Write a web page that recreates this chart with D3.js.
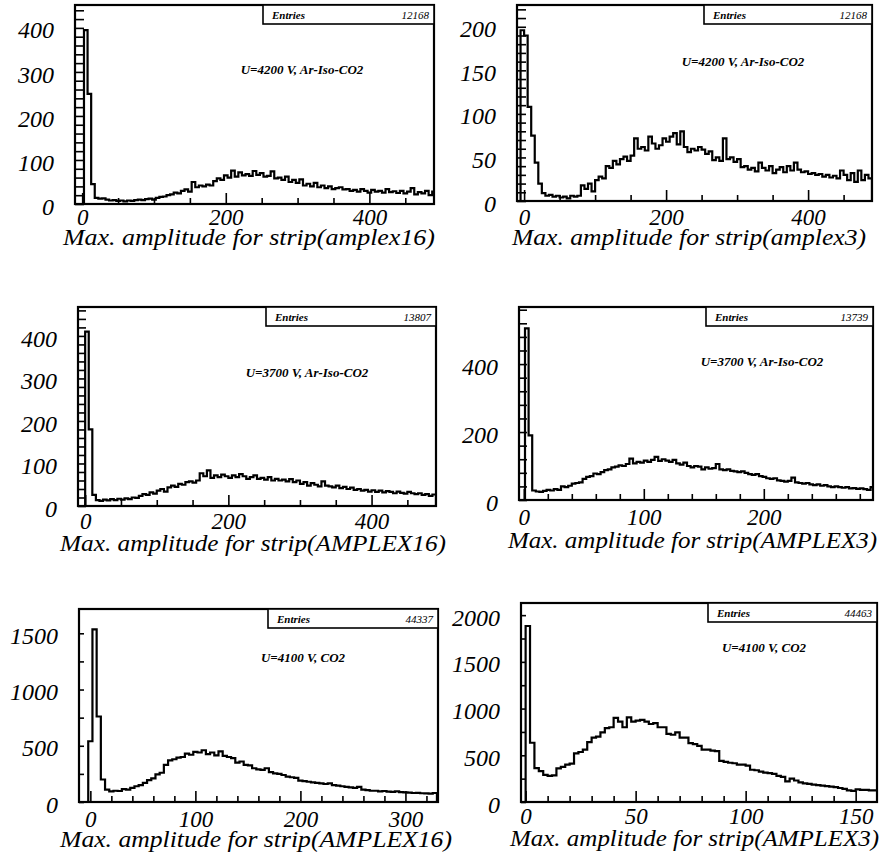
<!DOCTYPE html>
<html>
<head>
<meta charset="utf-8">
<script src="https://cdn.jsdelivr.net/npm/d3@7"></script>
<style>
  body { margin: 0; background: #fff; }
</style>
</head>
<body>
<div id="chart"></div>
<script>
// Histogram contents (bin counts, left to right)
const titles = [
  'Max. amplitude for strip(amplex16)',
  'Max. amplitude for strip(amplex3)',
  'Max. amplitude for strip(AMPLEX16)',
  'Max. amplitude for strip(AMPLEX3)',
  'Max. amplitude for strip(AMPLEX16)',
  'Max. amplitude for strip(AMPLEX3)'
]
const notes = [
  'U=4200 V, Ar-Iso-CO2', 'U=4200 V, Ar-Iso-CO2',
  'U=3700 V, Ar-Iso-CO2', 'U=3700 V, Ar-Iso-CO2',
  'U=4100 V, CO2', 'U=4100 V, CO2'
]
const entries = [12168, 12168, 13807, 13739, 44337, 44463]
const binStart = [-7.5, -10, -10, -2, -10, 0]
const binWidth = [5, 5, 5, 3, 4, 2]

const counts1 = [0, 0, 395, 250, 45, 14, 12, 13, 10, 8,
  9, 7, 8, 6, 8, 7, 9, 10, 9, 11,
  12, 10, 14, 16, 17, 20, 22, 26, 24, 30,
  33, 28, 50, 38, 42, 40, 44, 42, 52, 58,
  55, 65, 60, 76, 62, 72, 65, 68, 64, 75,
  66, 70, 62, 64, 74, 58, 60, 55, 62, 50,
  55, 48, 56, 42, 46, 40, 48, 38, 42, 36,
  40, 34, 36, 38, 33, 34, 30, 32, 28, 34,
  30, 26, 32, 28, 30, 26, 34, 27, 29, 25,
  30, 24, 28, 36, 22, 27, 24, 30, 20, 28]

const counts2 = [0, 196, 190, 108, 75, 44, 20, 9, 6, 7,
  5, 6, 4, 5, 3, 6, 5, 6, 18, 14,
  20, 11, 24, 28, 26, 40, 38, 46, 42, 48,
  51, 46, 52, 72, 60, 62, 58, 74, 66, 60,
  64, 72, 68, 74, 78, 65, 80, 62, 56, 60,
  58, 62, 59, 54, 57, 47, 50, 46, 72, 48,
  50, 45, 48, 39, 40, 36, 38, 34, 44, 38,
  35, 40, 32, 36, 39, 33, 40, 35, 44, 36,
  33, 34, 31, 32, 30, 31, 28, 30, 27, 29,
  26, 35, 30, 24, 32, 22, 35, 24, 30, 26]

const counts3 = [0, 0, 410, 180, 26, 14, 12, 15, 13, 16,
  14, 17, 15, 18, 16, 20, 19, 24, 28, 26,
  32, 29, 36, 40, 34, 44, 48, 45, 52, 50,
  56, 58, 55, 60, 77, 70, 84, 66, 72, 68,
  74, 70, 66, 72, 68, 75, 70, 64, 68, 72,
  64, 66, 62, 68, 60, 64, 60, 62, 58, 63,
  56, 60, 52, 56, 48, 54, 50, 46, 58, 48,
  46, 44, 48, 42, 45, 40, 43, 38, 40, 36,
  38, 34, 37, 33, 36, 32, 35, 33, 30, 34,
  31, 29, 33, 30, 28, 30, 26, 28, 24, 27]

const counts4 = [0, 505, 190, 28, 25, 24, 27, 30, 28, 32,
  30, 40, 38, 42, 48, 50, 52, 62, 68, 70,
  78, 76, 82, 88, 90, 96, 98, 102, 100, 106,
  122, 108, 112, 110, 116, 112, 118, 127, 115, 120,
  116, 112, 118, 108, 104, 110, 100, 96, 100, 98,
  90, 96, 92, 94, 106, 90, 88, 90, 86, 84,
  82, 84, 80, 76, 74, 76, 70, 68, 64, 62,
  64, 58, 56, 54, 56, 66, 52, 50, 48, 50,
  46, 44, 46, 42, 44, 40, 38, 40, 38, 36,
  38, 34, 35, 33, 34, 32, 30, 38]

const counts5 = [0, 0, 540, 1535, 760, 200, 110, 95, 100, 98,
  115, 110, 125, 140, 150, 170, 195, 210, 245, 260,
  330, 370, 380, 395, 400, 430, 420, 445, 440, 460,
  425, 440, 415, 450, 410, 400, 390, 350, 360, 330,
  325, 300, 290, 285, 300, 265, 255, 250, 240, 225,
  220, 215, 190, 185, 180, 175, 170, 165, 160, 165,
  150, 145, 140, 135, 130, 125, 135, 110, 105, 100,
  100, 95, 98, 92, 90, 95, 88, 86, 84, 80,
  82, 78, 76, 74, 80]

const counts6 = [1884, 634, 362, 330, 290, 280, 285, 360, 375, 400,
  410, 520, 535, 560, 640, 690, 700, 745, 790, 800,
  900, 860, 800, 905, 860, 870, 880, 860, 835, 845,
  800, 800, 730, 720, 745, 690, 690, 630, 620, 600,
  560, 560, 550, 545, 440, 430, 420, 415, 400, 400,
  390, 345, 340, 325, 315, 310, 300, 280, 270, 220,
  250, 230, 210, 200, 195, 185, 180, 175, 170, 165,
  160, 150, 140, 125, 120, 135, 130, 130, 125, 125]

const allCounts = [counts1, counts2, counts3, counts4, counts5, counts6]

// Frame geometry and axis settings for each of the six pads
const layout = [
  { left: 75, right: 434, top: 5, bottom: 204, xMin: -10, xMax: 490, yMax: 452,
    xMinor: 50, xMajor: 200, yMinor: 20, yMajor: 100, yTick: 9,
    boxLeft: 263, noteX: 302, noteY: 70, labelY: 225, titleX: 63, titleY: 245, titleW: 372 },
  { left: 517, right: 872, top: 5, bottom: 201, xMin: -10, xMax: 490, yMax: 225,
    xMinor: 50, xMajor: 200, yMinor: 10, yMajor: 50, yTick: 9,
    boxLeft: 704, noteX: 743, noteY: 62, labelY: 225, titleX: 512, titleY: 245, titleW: 354 },
  { left: 78, right: 436, top: 307, bottom: 506, xMin: -10, xMax: 490, yMax: 468,
    xMinor: 50, xMajor: 200, yMinor: 20, yMajor: 100, yTick: 8,
    boxLeft: 266, noteX: 307, noteY: 373, labelY: 529, titleX: 60, titleY: 551, titleW: 386 },
  { left: 519, right: 873, top: 307, bottom: 500, xMin: -4, xMax: 291, yMax: 568,
    xMinor: 20, xMajor: 100, yMinor: 40, yMajor: 200, yTick: 8,
    boxLeft: 706, noteX: 762, noteY: 362, labelY: 525, titleX: 508, titleY: 548, titleW: 369 },
  { left: 79, right: 438, top: 609, bottom: 802, xMin: -10.8, xMax: 331, yMax: 1716,
    xMinor: 20, xMajor: 100, yMinor: 250, yMajor: 500, yTick: 5,
    boxLeft: 268, noteX: 303, noteY: 658, labelY: 827, titleX: 60, titleY: 847, titleW: 392 },
  { left: 521, right: 877, top: 603, bottom: 802, xMin: -2.1, xMax: 159.7, yMax: 2130,
    xMinor: 10, xMajor: 50, yMinor: 250, yMajor: 500, yTick: 5,
    boxLeft: 708, noteX: 764, noteY: 648, labelY: 824, titleX: 510, titleY: 846, titleW: 369 }
]

const serif = "'Liberation Serif', 'Times New Roman', Times, 'DejaVu Serif', serif"

const svg = d3.select('#chart')
  .append('svg')
  .attr('width', 891)
  .attr('height', 858)

function stepValues(lo, hi, step) {
  return d3.range(Math.ceil(lo / step) * step, hi + 1e-9, step)
}

function drawPanel(p, i) {
  const g = svg.append('g')

  const x = d3.scaleLinear().domain([p.xMin, p.xMax]).range([p.left, p.right])
  const y = d3.scaleLinear().domain([0, p.yMax]).range([p.bottom, p.top])

  // clip the histogram to the frame
  g.append('clipPath').attr('id', 'clip' + i)
    .append('rect')
    .attr('x', p.left).attr('y', p.top)
    .attr('width', p.right - p.left).attr('height', p.bottom - p.top)

  // inward ticks along the bottom
  const xMinorTicks = stepValues(p.xMin, p.xMax, p.xMinor).filter(v => v % p.xMajor !== 0)
  const xMajorTicks = stepValues(p.xMin, p.xMax, p.xMajor)
  g.append('g')
    .attr('transform', 'translate(0,' + p.bottom + ')')
    .call(d3.axisBottom(x).tickValues(xMinorTicks).tickSize(-6).tickFormat(''))
    .call(a => a.select('.domain').remove())
    .selectAll('line').attr('stroke-width', 1.6)
  g.append('g')
    .attr('transform', 'translate(0,' + p.bottom + ')')
    .call(d3.axisBottom(x).tickValues(xMajorTicks).tickSize(-11).tickFormat(''))
    .call(a => a.select('.domain').remove())
    .selectAll('line').attr('stroke-width', 1.6)

  // inward ticks along the left side
  const yMinorTicks = stepValues(0, p.yMax, p.yMinor)
  g.append('g')
    .attr('transform', 'translate(' + p.left + ',0)')
    .call(d3.axisLeft(y).tickValues(yMinorTicks).tickSize(-p.yTick).tickFormat(''))
    .call(a => a.select('.domain').remove())
    .selectAll('line').attr('stroke-width', 1.6)

  // tick labels
  const xLab = g.append('g')
    .attr('transform', 'translate(0,' + p.bottom + ')')
    .call(d3.axisBottom(x).tickValues([0].concat(xMajorTicks.filter(v => v !== 0)))
      .tickSize(0).tickFormat(d3.format('d')))
    .call(a => a.select('.domain').remove())
  xLab.selectAll('text')
    .attr('y', p.labelY - p.bottom)
    .attr('dy', 0)
    .attr('fill', '#000')
    .style('font-family', serif)
    .style('font-size', '23px')
    .style('font-style', 'italic')

  const yLab = g.append('g')
    .attr('transform', 'translate(' + p.left + ',0)')
    .call(d3.axisLeft(y).tickValues(stepValues(0, p.yMax, p.yMajor))
      .tickSize(0).tickPadding(21).tickFormat(d3.format('d')))
    .call(a => a.select('.domain').remove())
  yLab.selectAll('text')
    .attr('dy', '0.42em')
    .attr('fill', '#000')
    .style('font-family', serif)
    .style('font-size', '24px')
    .style('font-style', 'italic')

  // histogram outline
  const counts = allCounts[i]
  const start = binStart[i]
  const w = binWidth[i]
  const pts = [[start, 0]]
  counts.forEach((c, k) => pts.push([start + k * w, c]))
  const end = start + counts.length * w
  pts.push([end, counts[counts.length - 1]])
  pts.push([end, 0])

  g.append('path')
    .datum(pts)
    .attr('clip-path', 'url(#clip' + i + ')')
    .attr('fill', 'none')
    .attr('stroke', '#000')
    .attr('stroke-width', 2.2)
    .attr('stroke-linejoin', 'miter')
    .attr('d', d3.line()
      .x(d => x(d[0]))
      .y(d => y(d[1]))
      .curve(d3.curveStepAfter))

  // frame
  g.append('rect')
    .attr('x', p.left).attr('y', p.top)
    .attr('width', p.right - p.left).attr('height', p.bottom - p.top)
    .attr('fill', 'none').attr('stroke', '#000').attr('stroke-width', 2.2)

  // statistics box
  g.append('rect')
    .attr('x', p.boxLeft).attr('y', p.top)
    .attr('width', p.right - p.boxLeft).attr('height', 19)
    .attr('fill', '#fff').attr('stroke', '#000').attr('stroke-width', 1.6)
  g.append('text')
    .attr('x', p.boxLeft + 9).attr('y', p.top + 14)
    .style('font-family', serif)
    .style('font-size', '11px').style('font-style', 'italic').style('font-weight', 'bold')
    .text('Entries')
  g.append('text')
    .attr('x', p.right - 5).attr('y', p.top + 14)
    .attr('text-anchor', 'end')
    .style('font-family', serif)
    .style('font-size', '11px').style('font-style', 'italic')
    .text(entries[i])

  // run conditions
  g.append('text')
    .attr('x', p.noteX).attr('y', p.noteY + 4)
    .attr('text-anchor', 'middle')
    .style('font-family', serif)
    .style('font-size', '13px').style('font-style', 'italic').style('font-weight', 'bold')
    .text(notes[i])

  // axis title
  g.append('text')
    .attr('x', p.titleX).attr('y', p.titleY)
    .attr('textLength', p.titleW)
    .attr('lengthAdjust', 'spacingAndGlyphs')
    .style('font-family', serif)
    .style('font-size', '23px').style('font-style', 'italic')
    .text(titles[i])
}

layout.forEach(drawPanel)
</script>
</body>
</html>
